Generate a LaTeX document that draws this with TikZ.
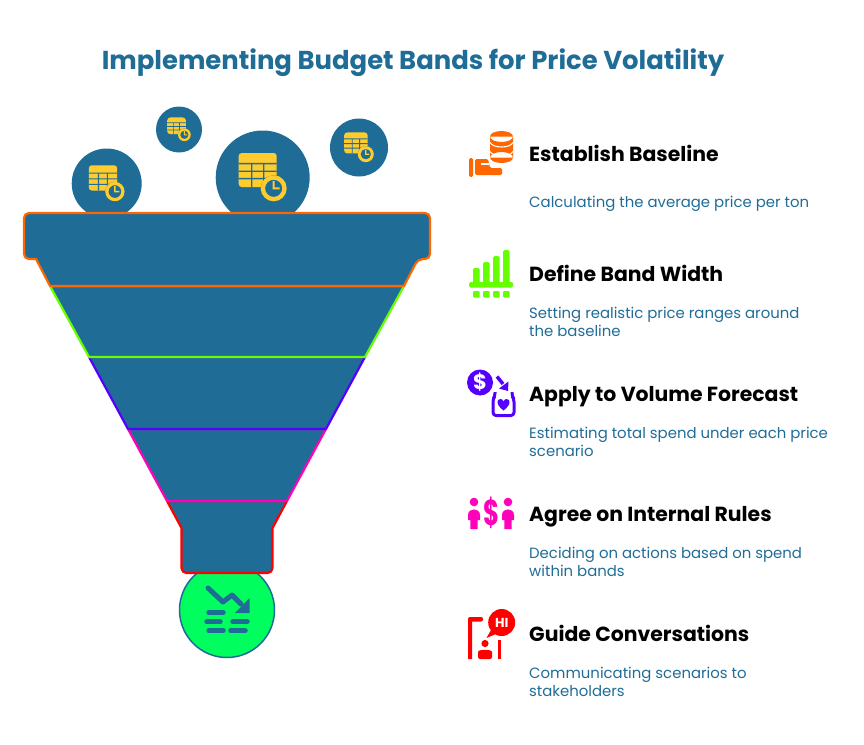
\documentclass[tikz,border=0pt]{standalone}
\usepackage{fontspec}
\setmainfont{Poppins}
\usetikzlibrary{positioning}

\definecolor{funnelblue}{HTML}{1F6C97}
\definecolor{clockyellow}{HTML}{FFCC2E}
\definecolor{bandorange}{HTML}{FF6600}
\definecolor{bandgreen}{HTML}{66FF00}
\definecolor{bandpurple}{HTML}{5500FF}
\definecolor{bandpink}{HTML}{FF00BB}
\definecolor{bandred}{HTML}{FF0000}
\definecolor{spoutgreen}{HTML}{00FF5E}

\tikzset{
  bubble/.style={circle,fill=funnelblue,inner sep=0pt},
  band/.style={fill=funnelblue,line width=2.2pt,line join=round},
  head/.style={anchor=west,font=\fontsize{20.4}{24}\selectfont\bfseries,text=black,inner sep=0pt,text height=15pt,text depth=5pt},
  note/.style={anchor=north west,align=left,font=\fontsize{14.9}{18}\selectfont,text=funnelblue,inner sep=0pt},
  tableclock/.pic={
    \fill[clockyellow,rounded corners=3pt] (-24,-24.5) rectangle (14,9.5);
    \fill[funnelblue] (-24,-14.6) rectangle (14,-13.2) (-24,-7) rectangle (14,-5.6) (-24,.4) rectangle (14,1.8);
    \fill[funnelblue] (-11.7,-14) rectangle (-10.3,9.5) (.3,-14) rectangle (1.7,9.5);
    \fill[funnelblue] (11,10.8) circle (13);
    \fill[clockyellow,even odd rule] (11,10.8) circle (13) (11,10.8) circle (8.6);
    \fill[clockyellow] (10,3.5) rectangle (12,11.8) (10,9.8) rectangle (17,11.8);
  }
}

\begin{document}
\begin{tikzpicture}[x=1pt,y=-1pt,on grid]
    \useasboundingbox (0,0) rectangle (864,744);
    \node[font=\fontsize{25.9}{30}\selectfont\bfseries,text=funnelblue,inner sep=0pt] (title) at (413,63) {Implementing Budget Bands for Price Volatility};

    % bubbles above the funnel
    \node[bubble,minimum size=70pt] (bubblea) at (106.7,183.5) {};
    \node[bubble,minimum size=46pt] (bubbleb) at (179,129.5) {};
    \node[bubble,minimum size=94pt] (bubblec) at (262.7,177.5) {};
    \node[bubble,minimum size=58pt] (bubbled) at (359,147.5) {};
    \pic[scale=0.745] at (bubblea) {tableclock};
    \pic[scale=0.49] at (bubbleb) {tableclock};
    \pic at (bubblec) {tableclock};
    \pic[scale=0.617] at (bubbled) {tableclock};

    % spout circle and its icon
    \node[circle,fill=spoutgreen,draw=funnelblue,line width=1.5pt,minimum size=95pt,inner sep=0pt] (spout) at (227,610) {};
    \draw[funnelblue,line width=5pt,line cap=round,line join=round] (208,588) -- (223,602) -- (232,595) -- (241,604);
    \fill[funnelblue] (249.5,598) -- (249.5,613) -- (235,613) -- cycle;
    \draw[funnelblue,line width=5.5pt,line cap=round]
        (209,612.7) -- (223,612.7)
        (207,621.7) -- (220,621.7) (233,621.7) -- (247,621.7)
        (209,630.7) -- (223,630.7) (231,630.7) -- (245,630.7);

    % funnel
    \filldraw[band,draw=bandred] (167,501) -- (181.5,528) [rounded corners=5pt] -- (181.5,573) -- (272.5,573) [sharp corners] -- (272.5,528) -- (287,501) -- cycle;
    \filldraw[band,draw=bandpink] (128,429) -- (167,501) -- (287,501) -- (326,429) -- cycle;
    \filldraw[band,draw=bandpurple] (89,357) -- (128,429) -- (326,429) -- (365,357) -- cycle;
    \filldraw[band,draw=bandgreen] (50,286) -- (89,357) -- (365,357) -- (404,286) -- cycle;
    \filldraw[band,draw=bandorange] (50,286) -- (36,259) [rounded corners=5pt] -- (24,259) -- (24,213) -- (430,213) -- (430,259) -- (418,259) [sharp corners] -- (404,286) -- cycle;

    % right column texts
    \node[head] (baseline) at (529,156) {Establish Baseline};
    \node[head] (width) [below=120pt of baseline.west,head] {Define Band Width};
    \node[head] (forecast) [below=120pt of width.west,head] {Apply to Volume Forecast};
    \node[head] (rules) [below=120pt of forecast.west,head] {Agree on Internal Rules};
    \node[head] (talks) [below=120pt of rules.west,head] {Guide Conversations};
    \node[note] (baselinenote) at ([yshift=-40pt]baseline.west) {Calculating the average price per ton};
    \node[note] (widthnote) at ([yshift=-31pt]width.west) {Setting realistic price ranges around\\the baseline};
    \node[note] (forecastnote) at ([yshift=-31pt]forecast.west) {Estimating total spend under each price\\scenario};
    \node[note] (rulesnote) at ([yshift=-31pt]rules.west) {Deciding on actions based on spend\\within bands};
    \node[note] (talksnote) at ([yshift=-31pt]talks.west) {Communicating scenarios to\\stakeholders};

    % orange icon
    \fill[bandorange] (501.5,136.5) ellipse (11.5 and 5.5) (501.5,157.5) ellipse (11.5 and 5.5) (490,136.5) rectangle (513,157.5);
    \draw[white,line width=1.1pt] (490,142.5) .. controls (493,148.5) and (510,148.5) .. (513,142.5)
        (490,151.5) .. controls (493,157.5) and (510,157.5) .. (513,151.5);
    \fill[bandorange,rounded corners=1.5pt] (469,158) rectangle (473,177);
    \fill[bandorange,rounded corners=1.5pt] (475,159) -- (488,159) -- (490,168) -- (502,168) -- (502,175) -- (475,175) -- cycle;
    \draw[white,line width=1.2pt] (481,164) -- (489,164);

    % green icon
    \foreach \xa/\ya in {473/268,483/262,493/256,503/250} {
        \fill[bandgreen,rounded corners=1.5pt] (\xa,\ya) rectangle (\xa+6.5,286);
        \fill[bandgreen,rounded corners=1pt] (\xa,291) rectangle +(6.5,6.5);
    }
    \fill[bandgreen,rounded corners=1.5pt] (469,282) rectangle (513,287.5);

    % purple icon
    \node[circle,fill=bandpurple,minimum size=26pt,inner sep=0pt,text=white,font=\fontsize{21}{21}\selectfont\bfseries] (coin) at (480,382.5) {\$};
    \draw[bandpurple,line width=3.5pt] (497,376.5) -- (503,384);
    \fill[bandpurple] (499,388.5) -- (508.5,381.5) -- (508,391) -- cycle;
    \draw[bandpurple,line width=3pt,line join=round,rounded corners=3pt] (495,392) -- (495,396) -- (493,399) -- (493,415.5) -- (514,415.5) -- (514,399) -- (512,396) -- (512,392);
    \fill[bandpurple] (503.5,410.5) .. controls (496,405) and (496,399) .. (500.5,399) .. controls (502,399) and (503,400) .. (503.5,401.5) .. controls (504,400) and (505,399) .. (506.5,399) .. controls (511,399) and (511,405) .. (503.5,410.5) -- cycle;

    % pink icon
    \fill[bandpink] (474,502) circle (4.3) (508,502) circle (4.3);
    \foreach \xa in {474,508} {
        \fill[bandpink] (\xa-6,520) -- (\xa-6,515) .. controls (\xa-6,507.5) and (\xa+6,507.5) .. (\xa+6,515) -- (\xa+6,520) -- (\xa+3.7,520) -- (\xa+3.7,529) -- (\xa-3.7,529) -- (\xa-3.7,520) -- cycle;
    }
    \node[text=bandpink,font=\fontsize{36}{36}\selectfont\bfseries,inner sep=0pt,xscale=0.68,transform shape] (dollar) at (491.5,513) {\$};

    % red icon
    \fill[bandred] (468,659) -- (468,620) [rounded corners=2pt] -- (468,617) -- (483,617) -- (483,621.5) [sharp corners] -- (472,621.5) -- (472,659) -- cycle;
    \node[circle,fill=bandred,minimum size=27pt,inner sep=0pt,text=white,font=\fontsize{13}{13}\selectfont\bfseries] (hello) at (501.7,622.5) {HI};
    \fill[bandred] (491,630) -- (486.5,638) -- (496,634) -- cycle;
    \fill[bandred] (485,643.5) circle (3.6);
    \fill[bandred,rounded corners=2pt] (478,659) -- (478,654) .. controls (478,649) and (492,649) .. (492,654) -- (492,659) -- cycle;
    \fill[bandred] (498,640) rectangle (501,659);
\end{tikzpicture}
\end{document}
